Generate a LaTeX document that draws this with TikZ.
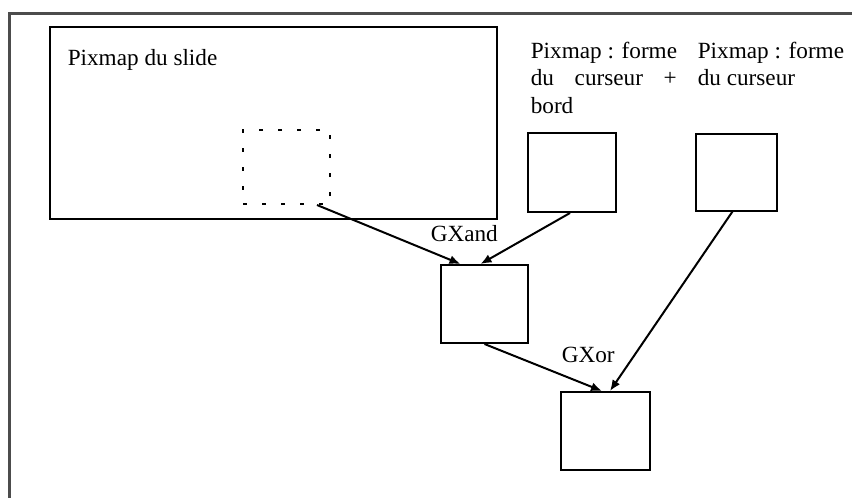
\documentclass[tikz,border=0pt]{standalone}
\usepackage{fontspec}
\setmainfont{Liberation Serif}
\usetikzlibrary{arrows.meta}
\begin{document}
\begin{tikzpicture}[x=0.5pt,y=-0.5pt,thick,
    every node/.style = {font = {\fontsize{11.6}{13.75}\selectfont}},
    pixbox/.style = {draw, line width=1pt, inner sep=0pt},
    fleche/.style = {line width=1pt, -{Latex[length=5.5pt,width=4.5pt]}}]
        \useasboundingbox (0,0) rectangle (852,498);
        \draw[line width=1.5pt, black!70] (9,498) -- (9,13) -- (852,13);

        \node[pixbox, minimum width=223.5pt, minimum height=96pt] (slide) at (273.5,123) {};
        \node[anchor=base west, inner sep=0pt] (slidetxt) at (67,65) {Pixmap du slide};
        \node[draw, line width=1pt, dash pattern=on 2pt off 7.5pt, inner sep=0pt,
              minimum width=43.5pt, minimum height=37pt] (zone) at (286.5,167) {};

        \node[anchor=north west, inner sep=0pt, align=left] (bordtxt) at (530,41)
            {Pixmap : forme\\\makebox[73pt][s]{du curseur +}\\bord};
        \node[anchor=north west, inner sep=0pt, align=left] (curtxt) at (697,41)
            {Pixmap : forme\\du curseur};

        \node[pixbox, minimum width=44pt, minimum height=39.5pt] (bord) at (572,172.5) {};
        \node[pixbox, minimum width=40.5pt, minimum height=38.5pt] (curseur) at (736.5,172) {};
        \node[pixbox, minimum width=43.5pt, minimum height=39pt] (gxand) at (484.5,304) {};
        \node[pixbox, minimum width=44.5pt, minimum height=39pt] (gxor) at (605.5,431) {};

        \node[anchor=base west, inner sep=0pt] (andtxt) at (430,241) {GXand};
        \node[anchor=base west, inner sep=0pt] (ortxt) at (561,362) {GXor};

        \draw[fleche] ([xshift=-7pt]zone.south east) -- ([xshift=-12pt]gxand.north);
        \draw[fleche] ([xshift=-1pt]bord.south) -- ([xshift=-2pt]gxand.north);
        \draw[fleche] (gxand.south) -- ([xshift=-1.75pt]gxor.north);
        \draw[fleche] ([xshift=-2pt]curseur.south) -- ([xshift=2.25pt]gxor.north);
\end{tikzpicture}
\end{document}
